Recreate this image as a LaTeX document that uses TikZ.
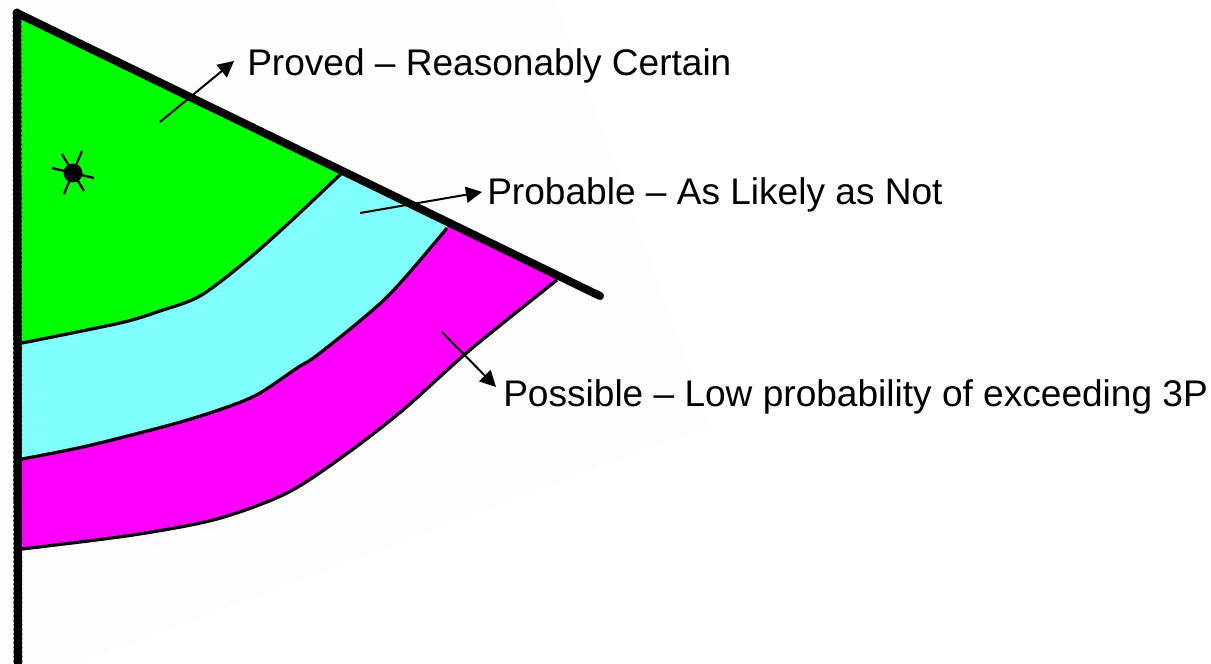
\documentclass[tikz,border=0pt]{standalone}
\usepackage{fontspec}
\setmainfont{Liberation Sans}
\usetikzlibrary{arrows.meta}
\definecolor{zonegreen}{HTML}{00FF00}
\definecolor{zonecyan}{HTML}{80FFFF}
\definecolor{zonemagenta}{HTML}{FF00FF}
\definecolor{faint}{HTML}{FDFDFD}
\tikzset{
  lbl/.style={anchor=base west,inner sep=0pt,font=\fontsize{27.8pt}{32pt}\selectfont},
  pointer/.style={line width=1.5pt,-{Triangle[length=12pt,width=12pt]}},
  contour/.style={line width=2.4pt,black,line join=round},
  fault/.style={line width=6pt,black,line cap=round},
  beads/.style={line width=6.8pt,black,line cap=round,dash pattern=on 0pt off 3.4pt},
  spoke/.style={line width=1.7pt,black}
}
\begin{document}
\begin{tikzpicture}[x=0.75pt,y=-0.75pt]
\useasboundingbox (0,0) rectangle (1211,664);
\fill[white] (0,0) rectangle (1211,664);
\fill[faint] (0,0) -- (555,0) -- (710,425) -- (76,664) -- (0,664) -- cycle;
% zones
\fill[zonemagenta] (18,14) -- (557,275) -- (557,280) -- plot[smooth,tension=0.5] coordinates {(557,280) (470,350) (403,410) (345,455) (287,493) (217,519) (133,535) (22,549)} -- (18,549) -- cycle;
\fill[zonecyan] (18,14) -- (447,222) -- (447,228) -- plot[smooth,tension=0.5] coordinates {(447,228) (387,297) (320,353) (297,368) (260,393) (230,406) (177,423) (87,446) (22,459)} -- (18,459) -- cycle;
\fill[zonegreen] (18,14) -- (343,171) -- plot[smooth,tension=0.5] coordinates {(343,172) (290,222) (245,262) (200,296) (160,311) (120,323) (22,343)} -- (18,343) -- cycle;
% contours
\draw[contour] plot[smooth,tension=0.5] coordinates {(343,172) (290,222) (245,262) (200,296) (160,311) (120,323) (22,343)};
\draw[contour] plot[smooth,tension=0.5] coordinates {(447,228) (387,297) (320,353) (297,368) (260,393) (230,406) (177,423) (87,446) (22,459)};
\draw[contour] plot[smooth,tension=0.5] coordinates {(557,280) (470,350) (403,410) (345,455) (287,493) (217,519) (133,535) (22,549)};
% faults
\coordinate (faultTop) at (17,13);
\coordinate (faultEnd) at (600,296);
\coordinate (faultBase) at (18,664);
\draw[fault] (faultTop) -- (faultEnd);
\draw[fault,line cap=butt] (faultTop) -- (faultBase);
\draw[beads] (faultTop) -- (faultBase);
% well
\coordinate (well) at (73,173);
\draw[spoke] (52,168) -- (94,178);
\draw[spoke] (62,154) -- (84,191);
\draw[spoke] (82,151) -- (64,194);
\fill[black] (well) circle[radius=9.5];
% labels
\node[lbl] (proved) at (247,75) {Proved – Reasonably Certain};
\node[lbl] (probable) at (487,204) {Probable – As Likely as Not};
\node[lbl] (possible) at (503,406) {Possible – Low probability of exceeding 3P};
% pointers
\coordinate (provedStart) at (160,122);
\coordinate (provedEnd) at (234,61);
\coordinate (probableStart) at (360,213);
\coordinate (probableEnd) at (482,192);
\coordinate (possibleStart) at (442,332);
\coordinate (possibleEnd) at (496,387);
\draw[pointer] (provedStart) -- (provedEnd);
\draw[pointer] (probableStart) -- (probableEnd);
\draw[pointer] (possibleStart) -- (possibleEnd);
\end{tikzpicture}
\end{document}
